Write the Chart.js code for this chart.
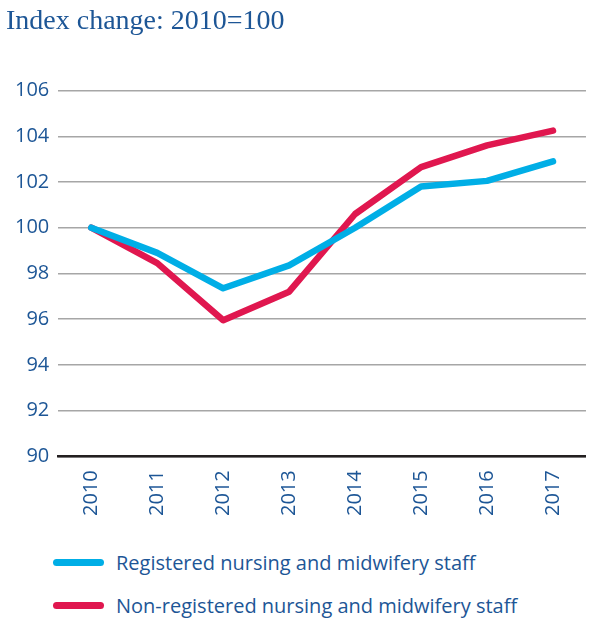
<!DOCTYPE html>
<html>
<head>
<meta charset="utf-8">
<script src="https://cdn.jsdelivr.net/npm/chart.js@4"></script>
<style>
  body { margin: 0; background: #fff; }
  #wrap { position: relative; width: 591px; height: 619px; }
  #box { position: absolute; left: 0; top: 0; width: 591px; height: 530px; }
  #legend { position: absolute; left: 53px; top: 541px; font-family: "Open Sans", sans-serif; font-size: 20px; color: #1d5696; }
  .item { display: flex; align-items: center; height: 43px; }
  .swatch { width: 51px; height: 7px; border-radius: 4px; margin-right: 12px; }
</style>
</head>
<body>
<div id="wrap">
  <div id="box"><canvas id="myChart"></canvas></div>
  <div id="legend"></div>
</div>
<script>
// Data
let years = ['2010', '2011', '2012', '2013', '2014', '2015', '2016', '2017']
let registered = [100, 98.9, 97.35, 98.35, 100.0, 101.8, 102.05, 102.9]
let nonRegistered = [100, 98.45, 95.95, 97.2, 100.6, 102.65, 103.6, 104.25]
let seriesNames = ['Registered nursing and midwifery staff', 'Non-registered nursing and midwifery staff']
let seriesColors = ['#00aee6', '#e0174f']

let textBlue = '#1d5696'

let ctx = document.getElementById('myChart').getContext('2d')
let myChart = new Chart(ctx, {
    type: 'line',
    data: {
        labels: years,
        datasets: [
            {
                label: seriesNames[0],
                data: registered,
                borderColor: seriesColors[0],
                backgroundColor: seriesColors[0],
                borderWidth: 6.5,
                pointRadius: 0,
                tension: 0,
                borderCapStyle: 'round',
                borderJoinStyle: 'round'
            },
            {
                label: seriesNames[1],
                data: nonRegistered,
                borderColor: seriesColors[1],
                backgroundColor: seriesColors[1],
                borderWidth: 6.5,
                pointRadius: 0,
                tension: 0,
                borderCapStyle: 'round',
                borderJoinStyle: 'round'
            }
        ]
    },
    options: {
        responsive: true,
        maintainAspectRatio: false,
        animation: false,
        layout: {
            padding: { left: 6, right: 0, top: 0, bottom: 0 }
        },
        plugins: {
            legend: { display: false },
            tooltip: { enabled: false },
            title: {
                display: true,
                text: 'Index change: 2010=100',
                align: 'start',
                color: textBlue,
                font: { family: '"Liberation Serif", serif', size: 28, weight: 'normal' },
                padding: { top: 5, bottom: 52 }
            }
        },
        scales: {
            x: {
                offset: true,
                grid: { display: false, drawTicks: false },
                border: { display: true, color: '#231f20', width: 2.5 },
                ticks: {
                    color: textBlue,
                    font: { family: '"Open Sans", sans-serif', size: 20 },
                    minRotation: 90,
                    maxRotation: 90,
                    padding: 14
                }
            },
            y: {
                min: 90,
                max: 106,
                grid: { color: '#a6a6a6', lineWidth: 1.5, drawTicks: false },
                border: { display: false },
                ticks: {
                    stepSize: 2,
                    color: textBlue,
                    font: { family: '"Open Sans", sans-serif', size: 20 },
                    padding: 9
                }
            }
        }
    }
})

// Legend below the chart
let legend = document.getElementById('legend')
myChart.data.datasets.forEach(ds => {
    let row = document.createElement('div')
    row.className = 'item'
    let sw = document.createElement('span')
    sw.className = 'swatch'
    sw.style.background = ds.borderColor
    let txt = document.createElement('span')
    txt.textContent = ds.label
    row.appendChild(sw)
    row.appendChild(txt)
    legend.appendChild(row)
})
</script>
</body>
</html>
